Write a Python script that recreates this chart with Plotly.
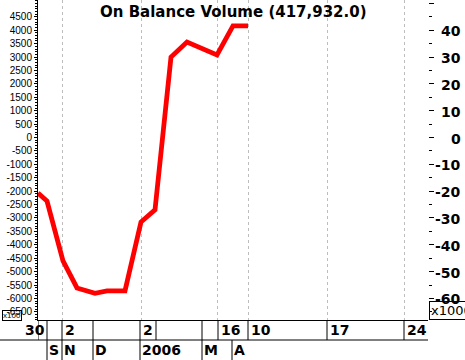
import plotly.graph_objects as go

# ---- data ----
x_pos = [0, 9, 25, 39, 57, 69, 87, 103, 117, 133, 149, 179, 195, 210]
obv = [-2070, -2370, -4600, -5610, -5810, -5720, -5720, -3150, -2700, 3000, 3560, 3080, 4160, 4160]

grid_x = [24, 103, 179, 210, 289, 366]
row1_seps = [0, 9, 24, 55, 102, 118, 164, 180, 210, 289, 366]
row2_seps = [9, 24, 55, 102, 164, 194]
row1_labels = [("30", 9, "right"), ("2", 24, "left"), ("2", 102, "left"), ("16", 180, "left"),
               ("10", 210, "left"), ("17", 289, "left"), ("24", 366, "left")]
row2_labels = [("S", 9, "left"), ("N", 24, "left"), ("D", 55, "left"), ("2006", 102, "left"),
               ("M", 164, "left"), ("A", 194, "left")]
left_ticks = list(range(-6500, 5000, 500))
right_ticks = list(range(-60, 50, 10))
right_major = list(range(-60, 60, 10))

X_RANGE = [0, 390]
Y_RANGE = [-6805, 5127]
Y2_RANGE = [Y_RANGE[0] / 100, Y_RANGE[1] / 100]

W, H = 465, 360
ML, MR, MT, MB = 38, 37, 0, 40
PW, PH = W - ML - MR, H - MT - MB

fig = go.Figure()
fig.add_trace(go.Scatter(x=x_pos, y=obv, mode="lines",
                         line=dict(color="#ff0000", width=4.8), showlegend=False, hoverinfo="skip"))
fig.add_trace(go.Scatter(x=[None], y=[None], yaxis="y2", showlegend=False, hoverinfo="skip"))

shapes = []
def px_to_paper_y(py):
    return (PH - py) / PH

for s in row1_seps:
    shapes.append(dict(type="line", xref="x", yref="paper", x0=s, x1=s,
                       y0=px_to_paper_y(340), y1=0, line=dict(color="black", width=1)))
for s in row2_seps:
    shapes.append(dict(type="line", xref="x", yref="paper", x0=s, x1=s,
                       y0=px_to_paper_y(362), y1=px_to_paper_y(340), line=dict(color="black", width=1)))
shapes.append(dict(type="line", xref="paper", yref="paper", x0=-ML / PW, x1=1,
                   y0=px_to_paper_y(340), y1=px_to_paper_y(340), line=dict(color="black", width=1)))

annotations = []
annotations.append(dict(text="<b>On Balance Volume (417,932.0)</b>", xref="paper", yref="paper",
                        x=0.5, y=1, xanchor="center", yanchor="top", yshift=-1, showarrow=False,
                        font=dict(family="DejaVu Sans", size=15, color="black")))
for t, xv, anc in row1_labels:
    annotations.append(dict(text="<b>%s</b>" % t, xref="x", yref="paper", x=xv, y=px_to_paper_y(330),
                            xanchor=anc, yanchor="middle", xshift=1 if anc == "left" else 0,
                            showarrow=False, font=dict(family="DejaVu Sans", size=14, color="black")))
for t, xv, anc in row2_labels:
    annotations.append(dict(text="<b>%s</b>" % t, xref="x", yref="paper", x=xv, y=px_to_paper_y(350),
                            xanchor=anc, yanchor="middle", xshift=0,
                            showarrow=False, font=dict(family="DejaVu Sans", size=14, color="black")))
for v in right_ticks:
    annotations.append(dict(text="<b>%d</b>" % v, xref="paper", yref="y2", x=(463 - ML) / PW, y=v,
                            xanchor="right", yanchor="middle", yshift=-1, showarrow=False,
                            font=dict(family="DejaVu Sans", size=14, color="black")))
annotations.append(dict(text="x1000", xref="paper", yref="paper", x=(429 - ML) / PW, y=px_to_paper_y(310),
                        xanchor="left", yanchor="middle", showarrow=False, borderpad=1,
                        bordercolor="black", borderwidth=1,
                        font=dict(family="DejaVu Sans", size=13, color="black")))
annotations.append(dict(text="x100", xref="paper", yref="paper", x=(2 - ML) / PW, y=px_to_paper_y(315),
                        xanchor="left", yanchor="middle", showarrow=False, borderpad=0,
                        bordercolor="black", borderwidth=1,
                        font=dict(family="Liberation Sans", size=8, color="black")))

fig.update_layout(
    width=W, height=H,
    margin=dict(l=ML, r=MR, t=MT, b=MB, pad=0, autoexpand=False),
    paper_bgcolor="white", plot_bgcolor="white",
    showlegend=False, hovermode=False,
    xaxis=dict(range=X_RANGE, tickmode="array", tickvals=grid_x, showticklabels=False, ticks="",
               showgrid=True, gridcolor="#bdbdbd", gridwidth=1, griddash="3px,3px",
               showline=True, linecolor="black", linewidth=1, zeroline=False, fixedrange=True),
    yaxis=dict(range=Y_RANGE, tickmode="array", tickvals=left_ticks,
               ticktext=[str(v) for v in left_ticks], ticks="outside", ticklen=3,
               tickcolor="black", showgrid=False, zeroline=False, fixedrange=True,
               showline=True, linecolor="black", linewidth=1,
               tickfont=dict(family="Liberation Sans", size=10, color="black"),
               minor=dict(dtick=100, tick0=0, ticks="outside", ticklen=2, tickcolor="black", showgrid=False)),
    yaxis2=dict(range=Y2_RANGE, overlaying="y", side="right", tickmode="array", tickvals=right_major,
                showticklabels=False, ticks="outside", ticklen=5, tickcolor="black", fixedrange=True,
                showgrid=False, zeroline=False, showline=False,
                minor=dict(dtick=10, tick0=5, ticks="outside", ticklen=3, tickcolor="black", showgrid=False)),
    shapes=shapes,
    annotations=annotations,
)

fig.write_html("out.html", config={"displayModeBar": False, "staticPlot": True},
               post_script="document.body.style.margin='0';document.body.style.overflow='hidden';")
